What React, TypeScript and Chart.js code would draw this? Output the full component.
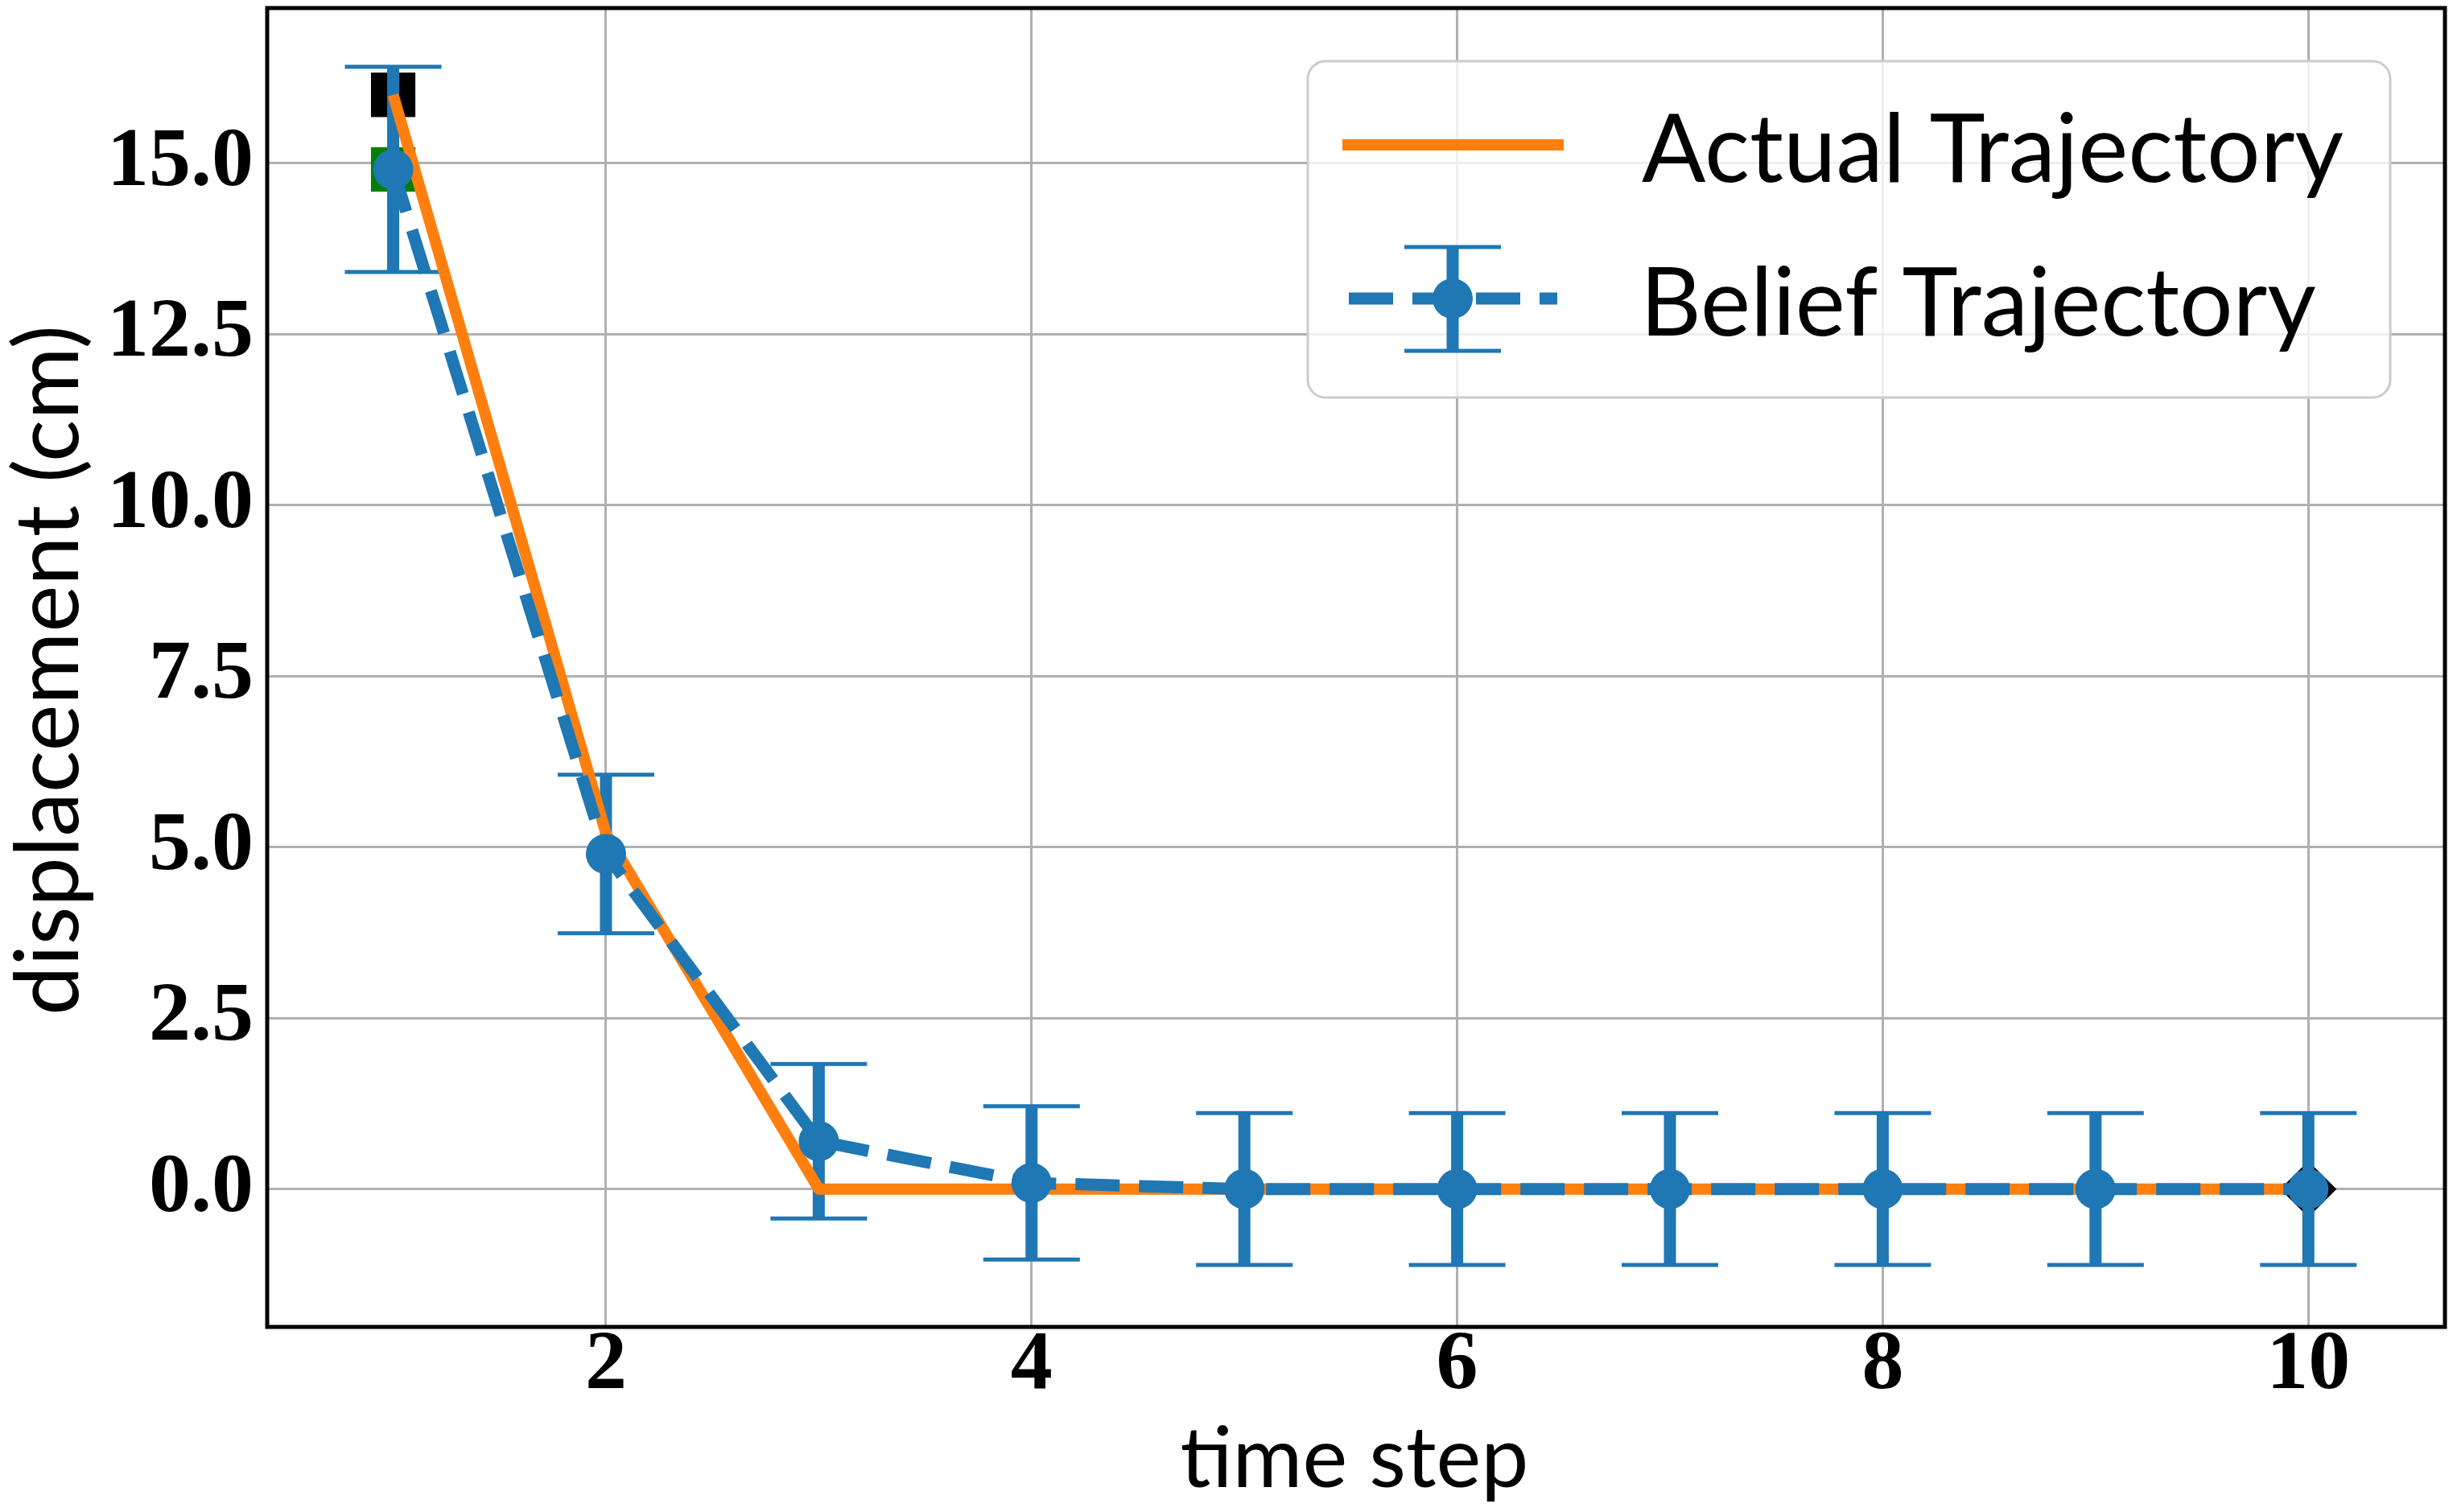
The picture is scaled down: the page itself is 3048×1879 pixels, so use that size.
import React, { useEffect, useRef } from 'react';
import { Chart, registerables } from 'chart.js';

Chart.register(...registerables);

// ---------------- data ----------------
const timeSteps = [1, 2, 3, 4, 5, 6, 7, 8, 9, 10];
const actualTrajectory = [16, 5.2, 0, 0, 0, 0, 0, 0, 0, 0];
const beliefTrajectory = [14.91, 4.9, 0.7, 0.09, 0, 0, 0, 0, 0, 0];
const beliefError = [1.5, 1.16, 1.13, 1.12, 1.11, 1.11, 1.11, 1.11, 1.11, 1.11];
const actualStart = { x: 1, y: 16 };
const beliefStart = { x: 1, y: 14.91 };
const goalPoint = { x: 10, y: 0 };
const xTickValues = [2, 4, 6, 8, 10];
const yTickValues = [0, 2.5, 5, 7.5, 10, 12.5, 15];
const seriesLabels = ['Actual Trajectory', 'Belief Trajectory'];
const xAxisTitle = 'time step';
const yAxisTitle = 'displacement (cm)';

// ---------------- styles ----------------
const BLUE = '#1f77b4';
const ORANGE = '#ff7f0e';
const GRID = '#b0b0b0';
const W = 3048;
const H = 1879;
const LABEL_FAMILY = 'Lato, "Liberation Sans", sans-serif';
const TICK_FONT = { family: '"Liberation Serif", serif', weight: 'bold' as const, size: 104, lineHeight: 0.8 };

function fitSize(ctx: CanvasRenderingContext2D, text: string, target: number) {
  ctx.font = `400 100px ${LABEL_FAMILY}`;
  const w = ctx.measureText(text).width;
  return (100 * target) / w;
}

function zeroPadding(s: any) {
  s.paddingTop = 0;
  s.paddingBottom = 0;
  s.paddingLeft = 0;
  s.paddingRight = 0;
}

const errorBarPlugin = {
  id: 'errorBars',
  beforeDatasetDraw(chart: any, args: any) {
    if (args.index !== 1) return;
    const { ctx } = chart;
    const xs = chart.scales.x;
    const ys = chart.scales.y;
    ctx.save();
    ctx.strokeStyle = BLUE;
    ctx.lineCap = 'butt';
    timeSteps.forEach((t, i) => {
      const px = xs.getPixelForValue(t);
      const top = ys.getPixelForValue(beliefTrajectory[i] + beliefError[i]);
      const bot = ys.getPixelForValue(beliefTrajectory[i] - beliefError[i]);
      ctx.lineWidth = 15;
      ctx.beginPath();
      ctx.moveTo(px, top);
      ctx.lineTo(px, bot);
      ctx.stroke();
      ctx.lineWidth = 5;
      ctx.beginPath();
      ctx.moveTo(px - 60, top);
      ctx.lineTo(px + 60, top);
      ctx.moveTo(px - 60, bot);
      ctx.lineTo(px + 60, bot);
      ctx.stroke();
    });
    ctx.restore();
  },
};

const decorPlugin = {
  id: 'decor',
  afterDraw(chart: any) {
    const { ctx, chartArea: a } = chart;
    ctx.save();
    // frame
    ctx.strokeStyle = '#000';
    ctx.lineWidth = 5;
    ctx.strokeRect(a.left, a.top, a.right - a.left, a.bottom - a.top);

    // axis titles
    ctx.fillStyle = '#000';
    ctx.textAlign = 'center';
    ctx.textBaseline = 'alphabetic';
    const xSize = fitSize(ctx, xAxisTitle, 433);
    ctx.font = `400 ${xSize}px ${LABEL_FAMILY}`;
    ctx.fillText(xAxisTitle, 1683, 1848);
    const ySize = fitSize(ctx, yAxisTitle, 858);
    ctx.font = `400 ${ySize}px ${LABEL_FAMILY}`;
    ctx.save();
    ctx.translate(97, 833);
    ctx.rotate(-Math.PI / 2);
    ctx.fillText(yAxisTitle, 0, 0);
    ctx.restore();

    // legend box
    const bx = 1625, by = 76, bw = 1345, bh = 418, r = 22;
    ctx.beginPath();
    ctx.moveTo(bx + r, by);
    ctx.lineTo(bx + bw - r, by);
    ctx.arcTo(bx + bw, by, bx + bw, by + r, r);
    ctx.lineTo(bx + bw, by + bh - r);
    ctx.arcTo(bx + bw, by + bh, bx + bw - r, by + bh, r);
    ctx.lineTo(bx + r, by + bh);
    ctx.arcTo(bx, by + bh, bx, by + bh - r, r);
    ctx.lineTo(bx, by + r);
    ctx.arcTo(bx, by, bx + r, by, r);
    ctx.closePath();
    ctx.fillStyle = 'rgba(255,255,255,0.8)';
    ctx.fill();
    ctx.strokeStyle = '#cccccc';
    ctx.lineWidth = 3;
    ctx.stroke();

    // row 1: actual
    ctx.strokeStyle = ORANGE;
    ctx.lineWidth = 14;
    ctx.lineCap = 'butt';
    ctx.beginPath();
    ctx.moveTo(1668, 180);
    ctx.lineTo(1943, 180);
    ctx.stroke();

    // row 2: belief
    ctx.strokeStyle = BLUE;
    ctx.lineWidth = 15;
    ctx.setLineDash([55, 24]);
    ctx.beginPath();
    ctx.moveTo(1676, 371);
    ctx.lineTo(1935, 371);
    ctx.stroke();
    ctx.setLineDash([]);
    ctx.beginPath();
    ctx.moveTo(1805, 307);
    ctx.lineTo(1805, 436);
    ctx.stroke();
    ctx.lineWidth = 5;
    ctx.beginPath();
    ctx.moveTo(1745, 307);
    ctx.lineTo(1865, 307);
    ctx.moveTo(1745, 436);
    ctx.lineTo(1865, 436);
    ctx.stroke();
    ctx.fillStyle = BLUE;
    ctx.beginPath();
    ctx.arc(1805, 371, 25, 0, Math.PI * 2);
    ctx.fill();

    // legend text
    const legSize = fitSize(ctx, seriesLabels[0], 872);
    ctx.font = `400 ${legSize}px ${LABEL_FAMILY}`;
    ctx.fillStyle = '#000';
    ctx.textAlign = 'left';
    ctx.textBaseline = 'alphabetic';
    ctx.fillText(seriesLabels[0], 2040, 226);
    ctx.fillText(seriesLabels[1], 2038, 417);
    ctx.restore();
  },
};

export default function App() {
  const ref = useRef<HTMLCanvasElement | null>(null);

  useEffect(() => {
    if (!ref.current) return;
    const chart = new Chart(ref.current, {
      type: 'line',
      data: {
        datasets: [
          {
            label: seriesLabels[1],
            data: timeSteps.map((x, i) => ({ x, y: beliefTrajectory[i] })),
            borderColor: BLUE,
            backgroundColor: BLUE,
            borderWidth: 15,
            borderDash: [55, 24],
            borderCapStyle: 'butt',
            pointRadius: 25,
            pointBorderWidth: 0,
            pointBackgroundColor: BLUE,
            tension: 0,
            fill: false,
            order: 0,
          },
          {
            label: seriesLabels[0],
            data: timeSteps.map((x, i) => ({ x, y: actualTrajectory[i] })),
            borderColor: ORANGE,
            backgroundColor: ORANGE,
            borderWidth: 14,
            borderJoinStyle: 'round',
            borderCapStyle: 'butt',
            pointRadius: 0,
            tension: 0,
            fill: false,
            order: 1,
          },
          {
            label: 'actual start',
            data: [actualStart],
            showLine: false,
            pointStyle: 'rect',
            pointRadius: 39,
            pointBorderWidth: 0,
            pointBackgroundColor: '#000000',
            order: 2,
          },
          {
            label: 'belief start',
            data: [beliefStart],
            showLine: false,
            pointStyle: 'rect',
            pointRadius: 39,
            pointBorderWidth: 0,
            pointBackgroundColor: '#008000',
            order: 3,
          },
          {
            label: 'goal',
            data: [goalPoint],
            showLine: false,
            pointStyle: 'rectRot',
            pointRadius: 35,
            pointBorderWidth: 0,
            pointBackgroundColor: '#000000',
            order: 4,
          },
        ],
      },
      options: {
        responsive: false,
        animation: false,
        devicePixelRatio: 1,
        events: [],
        layout: { autoPadding: false, padding: { left: 0, right: 10, top: 10, bottom: 0 } },
        plugins: {
          legend: { display: false },
          tooltip: { enabled: false },
        },
        scales: {
          x: {
            type: 'linear',
            min: 0.408,
            max: 10.642,
            afterBuildTicks: (s: any) => {
              s.ticks = xTickValues.map((v) => ({ value: v }));
            },
            afterFit: (s: any) => {
              s.height = H - 1649;
              zeroPadding(s);
            },
            grid: { color: GRID, lineWidth: 3, drawTicks: false },
            border: { display: false },
            ticks: {
              font: TICK_FONT,
              color: '#000',
              padding: 8,
              maxRotation: 0,
              autoSkip: false,
              callback: (v: any) => String(v),
            },
          },
          y: {
            type: 'linear',
            min: -2.016,
            max: 17.27,
            afterBuildTicks: (s: any) => {
              s.ticks = yTickValues.map((v) => ({ value: v }));
            },
            afterFit: (s: any) => {
              s.width = 332;
              zeroPadding(s);
            },
            grid: { color: GRID, lineWidth: 3, drawTicks: false },
            border: { display: false },
            ticks: {
              font: TICK_FONT,
              color: '#000',
              padding: 17,
              autoSkip: false,
              callback: (v: any) => Number(v).toFixed(1),
            },
          },
        },
      },
      plugins: [errorBarPlugin, decorPlugin],
    } as any);
    return () => chart.destroy();
  }, []);

  return (
    <div style={{ position: 'absolute', left: 0, top: 0, width: W, height: H, background: '#fff' }}>
      <canvas ref={ref} width={W} height={H} style={{ display: 'block', width: W, height: H }} />
    </div>
  );
}
